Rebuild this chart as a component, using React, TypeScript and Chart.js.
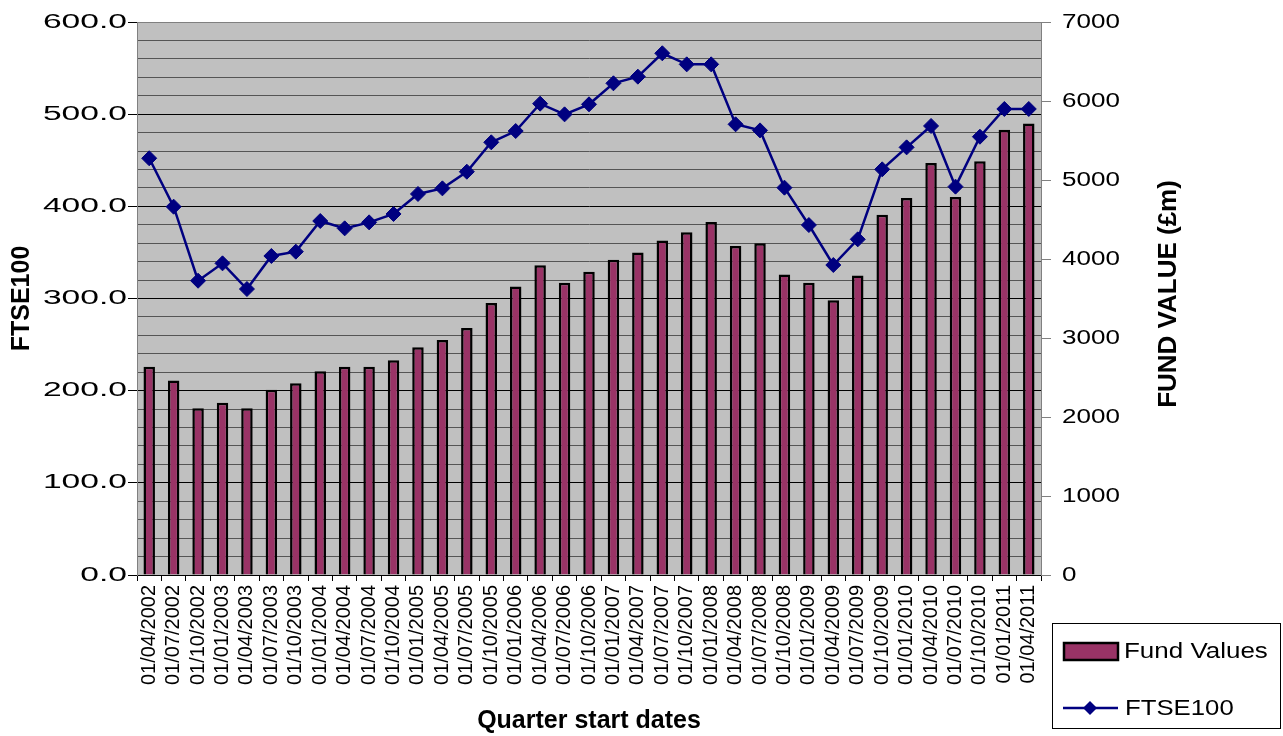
import React, { useEffect, useRef } from 'react';
import { Chart, registerables } from 'chart.js';

Chart.register(...registerables);

const FONT = "'Liberation Sans', Arial, Helvetica, sans-serif";

const quarterLabels = [
  '01/04/2002', '01/07/2002', '01/10/2002', '01/01/2003', '01/04/2003', '01/07/2003',
  '01/10/2003', '01/01/2004', '01/04/2004', '01/07/2004', '01/10/2004', '01/01/2005',
  '01/04/2005', '01/07/2005', '01/10/2005', '01/01/2006', '01/04/2006', '01/07/2006',
  '01/10/2006', '01/01/2007', '01/04/2007', '01/07/2007', '01/10/2007', '01/01/2008',
  '01/04/2008', '01/07/2008', '01/10/2008', '01/01/2009', '01/04/2009', '01/07/2009',
  '01/10/2009', '01/01/2010', '01/04/2010', '01/07/2010', '01/10/2010', '01/01/2011',
  '01/04/2011',
];

const fundValues = [
  226, 211, 181, 187, 181, 201, 208, 221, 226, 226, 233, 247, 255, 268, 295, 313,
  336, 317, 329, 342, 350, 363, 372, 383, 357, 360, 326, 317, 298, 325, 391, 409,
  447, 410, 449, 483, 490,
];

const ftse100 = [
  5275, 4662, 3725, 3945, 3620, 4038, 4093, 4481, 4388, 4464, 4570, 4823, 4894, 5105,
  5477, 5620, 5966, 5831, 5958, 6224, 6308, 6604, 6464, 6464, 5705, 5628, 4903, 4430,
  3924, 4249, 5135, 5413, 5684, 4916, 5548, 5899, 5899,
];

const leftAxisTitle = 'FTSE100';
const rightAxisTitle = 'FUND VALUE (£m)';
const xAxisTitle = 'Quarter start dates';
const leftMax = 600;
const leftMinorStep = 20;
const leftMajorStep = 100;
const rightMax = 7000;
const rightStep = 1000;

function stretchText(ctx: CanvasRenderingContext2D, text: string, x: number, y: number, sx: number, align: CanvasTextAlign) {
  ctx.save();
  ctx.translate(x, y);
  ctx.scale(sx, 1);
  ctx.textAlign = align;
  ctx.textBaseline = 'middle';
  ctx.fillText(text, 0, 0);
  ctx.restore();
}

const decorPlugin = {
  id: 'decor',
  beforeDraw(chart: any) {
    const { ctx, chartArea: a, width, height } = chart;
    ctx.save();
    ctx.fillStyle = '#ffffff';
    ctx.fillRect(0, 0, width, height);
    ctx.fillStyle = '#c0c0c0';
    ctx.fillRect(a.left, a.top, a.right - a.left, a.bottom - a.top);
    ctx.restore();
  },
  afterDraw(chart: any) {
    const { ctx, chartArea: a } = chart;
    const yL = chart.scales.y;
    const yR = chart.scales.y1;
    ctx.save();
    ctx.strokeStyle = '#808080';
    ctx.lineWidth = 1;
    ctx.beginPath();
    ctx.moveTo(a.left, a.top + 0.5);
    ctx.lineTo(a.right + 0.5, a.top + 0.5);
    ctx.lineTo(a.right + 0.5, a.bottom);
    ctx.stroke();

    ctx.fillStyle = '#000';
    ctx.font = `20px ${FONT}`;
    yL.ticks.forEach((t: any) => {
      if (t.value % leftMajorStep === 0) {
        stretchText(ctx, t.value.toFixed(1), a.left - 10, yL.getPixelForValue(t.value), 1.68, 'right');
      }
    });
    yR.ticks.forEach((t: any) => {
      stretchText(ctx, String(t.value), a.right + 21, yR.getPixelForValue(t.value), 1.3, 'left');
    });

    ctx.font = `bold 26px ${FONT}`;
    ctx.save();
    ctx.translate(1169, 294);
    ctx.rotate(-Math.PI / 2);
    ctx.textAlign = 'center';
    ctx.textBaseline = 'middle';
    ctx.fillText(rightAxisTitle, 0, 0);
    ctx.restore();

    const ds = chart.data.datasets;
    ctx.strokeStyle = '#000';
    ctx.lineWidth = 1;
    ctx.strokeRect(1052.5, 623.5, 228, 105);

    ctx.fillStyle = ds[0].backgroundColor;
    ctx.fillRect(1064, 643, 54, 17);
    ctx.strokeStyle = '#000';
    ctx.lineWidth = 2.5;
    ctx.strokeRect(1064, 643, 54, 17);
    ctx.fillStyle = '#000';
    ctx.font = `22px ${FONT}`;
    stretchText(ctx, ds[0].label, 1124, 652, 1.18, 'left');

    ctx.strokeStyle = ds[1].borderColor;
    ctx.lineWidth = 2.5;
    ctx.beginPath();
    ctx.moveTo(1063, 708);
    ctx.lineTo(1118, 708);
    ctx.stroke();
    ctx.fillStyle = ds[1].borderColor;
    ctx.beginPath();
    ctx.moveTo(1090 - 7, 708);
    ctx.lineTo(1090, 708 - 7);
    ctx.lineTo(1090 + 7, 708);
    ctx.lineTo(1090, 708 + 7);
    ctx.closePath();
    ctx.fill();
    ctx.fillStyle = '#000';
    stretchText(ctx, ds[1].label, 1125, 709, 1.17, 'left');
    ctx.restore();
  },
};

export default function App() {
  const canvasRef = useRef<HTMLCanvasElement | null>(null);

  useEffect(() => {
    if (!canvasRef.current) return;
    Chart.defaults.font.family = FONT;
    Chart.defaults.color = '#000';
    const chart = new Chart(canvasRef.current, {
      type: 'bar',
      data: {
        labels: quarterLabels,
        datasets: [
          {
            type: 'bar',
            label: 'Fund Values',
            data: fundValues,
            yAxisID: 'y',
            backgroundColor: '#993366',
            borderColor: '#000000',
            borderWidth: 2.5,
            barPercentage: 0.47,
            categoryPercentage: 1,
            order: 2,
          },
          {
            type: 'line',
            label: 'FTSE100',
            data: ftse100,
            yAxisID: 'y1',
            borderColor: '#000080',
            backgroundColor: '#000080',
            borderWidth: 2.5,
            pointStyle: 'rectRot',
            pointRadius: 7.5,
            pointBorderWidth: 1,
            pointBackgroundColor: '#000080',
            pointBorderColor: '#000080',
            tension: 0,
            order: 1,
          },
        ],
      } as any,
      options: {
        responsive: false,
        animation: false,
        devicePixelRatio: 1,
        layout: { padding: { top: 22, left: 0, right: 0, bottom: 0 } },
        plugins: { legend: { display: false }, tooltip: { enabled: false } },
        scales: {
          x: {
            offset: true,
            grid: { display: true, drawOnChartArea: false, drawTicks: true, tickLength: 6, color: '#000', offset: true },
            border: { display: true, color: '#000', width: 1 },
            ticks: { autoSkip: false, minRotation: 90, maxRotation: 90, padding: 4, color: '#000', font: { size: 20, family: FONT } },
            title: { display: true, text: xAxisTitle, color: '#000', padding: 0, font: { size: 25, weight: 'bold', family: FONT } },
            afterFit: (s: any) => { s.height = 161; },
          },
          y: {
            position: 'left',
            min: 0,
            max: leftMax,
            ticks: { display: false, stepSize: leftMinorStep },
            grid: {
              lineWidth: 1,
              tickLength: 9,
              color: (c: any) => {
                const v = c.tick ? c.tick.value : 0;
                if (v === leftMax) return '#808080';
                return v % leftMajorStep === 0 ? '#000000' : '#555555';
              },
              tickColor: (c: any) => (c.tick && c.tick.value % leftMajorStep === 0 ? '#000000' : 'rgba(0,0,0,0)'),
            },
            border: { display: true, color: '#808080', width: 1 },
            title: { display: true, text: leftAxisTitle, color: '#000', padding: { top: 7, bottom: 0 }, font: { size: 25, weight: 'bold', family: FONT } },
            afterFit: (s: any) => { s.width = 137; },
          },
          y1: {
            position: 'right',
            min: 0,
            max: rightMax,
            ticks: { display: false, stepSize: rightStep },
            grid: { drawOnChartArea: false, tickLength: 10, tickColor: '#808080', color: '#808080' },
            border: { display: true, color: '#808080', width: 1 },
            afterFit: (s: any) => { s.width = 242; },
          },
        },
      } as any,
      plugins: [decorPlugin],
    });
    return () => chart.destroy();
  }, []);

  return (
    <div style={{ position: 'absolute', left: 0, top: 0, width: 1283, height: 736, background: '#ffffff' }}>
      <canvas ref={canvasRef} width={1283} height={736} style={{ display: 'block', width: 1283, height: 736 }} />
    </div>
  );
}
